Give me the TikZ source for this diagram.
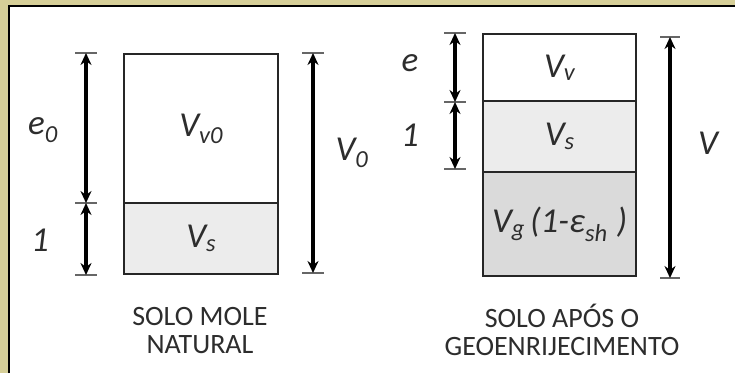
\documentclass[tikz,border=0pt]{standalone}
\usepackage{fontspec}
\setmainfont{Carlito}
\usetikzlibrary{arrows.meta, positioning}
\definecolor{framekhaki}{RGB}{214,207,152}
\definecolor{solidgray}{RGB}{236,236,236}
\definecolor{geogray}{RGB}{218,218,218}
\definecolor{inkgray}{RGB}{45,45,45}

\begin{document}
\begin{tikzpicture}[x=1pt,y=-1pt,
    layer/.style={draw=black!85,line width=2.4pt,anchor=north west,inner sep=0pt,
      font=\fontsize{35}{37}\selectfont\itshape,text=inkgray},
    dimarrow/.style={{Stealth[length=12pt,width=11pt]}-{Stealth[length=12pt,width=11pt]},
      line width=3.2pt},
    tickline/.style={draw=black!60,line width=1.4pt},
    lbl/.style={font=\fontsize{35}{37}\selectfont\itshape,text=inkgray},
    caption/.style={font=\fontsize{28}{28}\selectfont,text=inkgray,align=center}
  ]
  \useasboundingbox (0,0) rectangle (735,373);

  % Frame
  \fill[framekhaki] (0,0) rectangle (735,373);
  \fill[white] (9,6) rectangle (735,373);
  \draw[line width=2.5pt] (9,373) -- (9,6) -- (735,6);

  % Natural soft soil (left)
  \node[layer,fill=white,minimum width=154pt,minimum height=149pt] (voids0) at (123,53)
    {V\textsubscript{v0}};
  \node[layer,fill=solidgray,minimum width=154pt,minimum height=71pt] (solids0) at (123,202)
    {V\textsubscript{s}};

  \coordinate (ltop) at (86,53);
  \coordinate (lmid) at (86,203);
  \coordinate (lbot) at (86,275);
  \foreach \c in {ltop,lmid,lbot}
    \draw[tickline] ([xshift=-11pt]\c) -- ([xshift=11pt]\c);
  \draw[dimarrow] (ltop) -- (lmid);
  \draw[dimarrow] (lmid) -- (lbot);
  \node[lbl] (e0) at (43,130) {e\textsubscript{0}};
  \node[lbl] (one0) at (40,240) {1};

  \coordinate (vtop0) at (313,53);
  \coordinate (vbot0) at (313,273);
  \foreach \c in {vtop0,vbot0}
    \draw[tickline] ([xshift=-11pt]\c) -- ([xshift=11pt]\c);
  \draw[dimarrow] (vtop0) -- (vbot0);
  \node[lbl] (vol0) at (352,153) {V\textsubscript{0}};

  \node[caption] (cap0) at (200,331) {SOLO MOLE\\NATURAL};

  % Stiffened soil (right)
  \node[layer,fill=white,minimum width=153pt,minimum height=67pt] (voids) at (482,33)
    {V\textsubscript{v}};
  \node[layer,fill=solidgray,minimum width=153pt,minimum height=71pt] (solids) at (482,100)
    {V\textsubscript{s}};
  \node[layer,fill=geogray,minimum width=153pt,minimum height=104pt] (geo) at (482,171)
    {V\textsubscript{g}\hspace{5pt}(1-ε\textsubscript{sh}\hspace{9pt})};

  \coordinate (rtop) at (455,33);
  \coordinate (rmid) at (455,102);
  \coordinate (rbot) at (455,169);
  \foreach \c in {rtop,rmid,rbot}
    \draw[tickline] ([xshift=-11pt]\c) -- ([xshift=11pt]\c);
  \draw[dimarrow] (rtop) -- (rmid);
  \draw[dimarrow] (rmid) -- (rbot);
  \node[lbl] (e) at (410,63) {e};
  \node[lbl] (one) at (410,135) {1};

  \coordinate (vtop) at (670,37);
  \coordinate (vbot) at (670,278);
  \foreach \c in {vtop,vbot}
    \draw[tickline] ([xshift=-10pt]\c) -- ([xshift=10pt]\c);
  \draw[dimarrow] (vtop) -- (vbot);
  \node[lbl] (vol) at (708,143) {V};

  \node[caption] (cap) at (562,330) {SOLO APÓS O\\GEOENRIJECIMENTO};
\end{tikzpicture}
\end{document}
